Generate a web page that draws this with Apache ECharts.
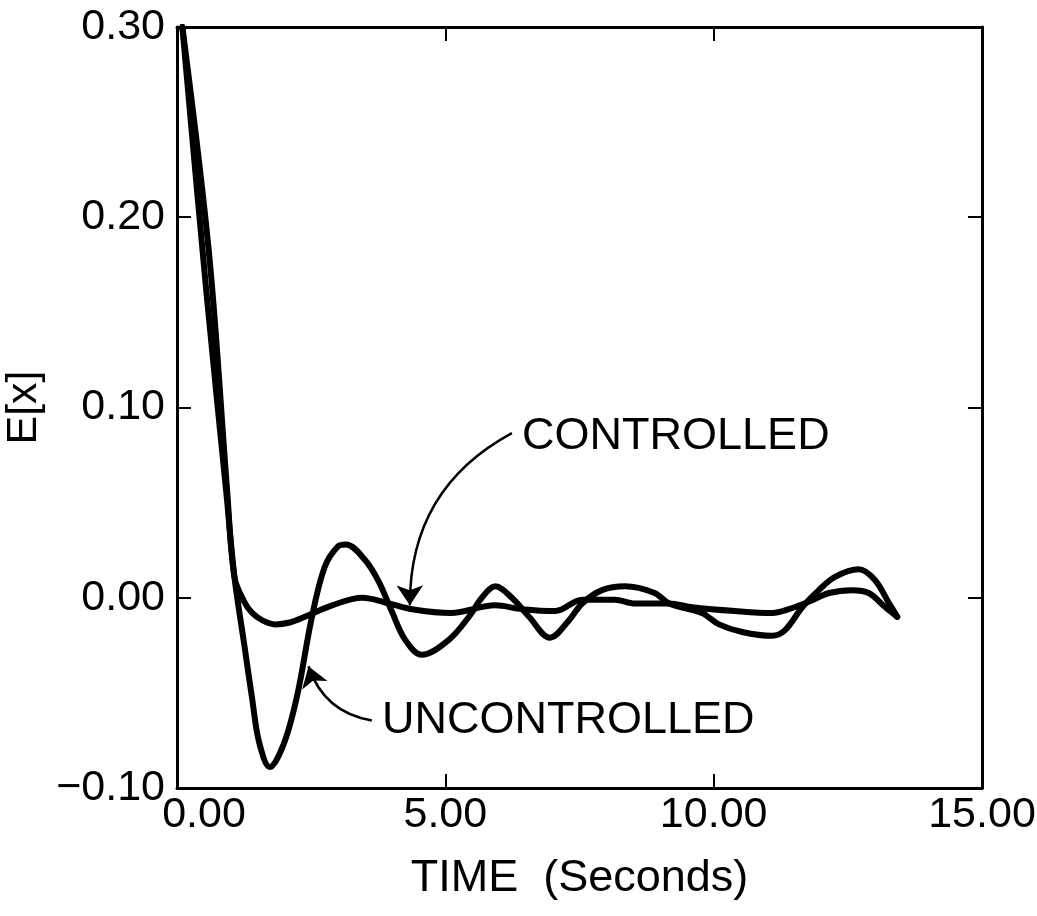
<!DOCTYPE html>
<html>
<head>
<meta charset="utf-8">
<script src="https://cdn.jsdelivr.net/npm/echarts@6/dist/echarts.min.js"></script>
<style>html,body{margin:0;padding:0;background:#fff}#c{width:1037px;height:916px}</style>
</head>
<body>
<div id="c"></div>
<script>
// ---- data ----
const xTicks = [0, 5, 10, 15];
const yTicks = [-0.1, 0, 0.1, 0.2, 0.3];
const xAxisTitle = 'TIME  (Seconds)';
const yAxisTitle = 'E[x]';

const uncontrolledT = [0.1, 0.55, 0.93, 1.07, 1.25, 1.4, 1.53, 1.73, 2.0, 2.25, 2.5, 2.75, 3.0, 3.15, 3.5, 3.75, 4.0, 4.25, 4.56, 5.07, 5.44, 5.68, 5.93, 6.24, 6.56, 6.95, 7.3, 7.55, 7.92, 8.35, 8.9, 9.17, 9.78, 10.1, 10.53, 11.09, 11.33, 11.65, 11.96, 12.26, 12.7, 13.0, 13.27, 13.42];
const uncontrolledY = [0.30, 0.16, 0.052, 0.011, -0.024, -0.053, -0.076, -0.089, -0.076, -0.050, -0.012, 0.016, 0.027, 0.028, 0.020, 0.009, -0.007, -0.022, -0.030, -0.022, -0.010, 0.000, 0.006, 0.000, -0.010, -0.021, -0.012, -0.003, 0.004, 0.006, 0.0025, -0.003, -0.008, -0.014, -0.018, -0.020, -0.017, -0.005, 0.004, 0.011, 0.015, 0.0095, -0.003, -0.010];

const controlledT = [0.1, 0.6, 0.93, 1.07, 1.25, 1.4, 1.6, 1.83, 2.1, 2.38, 2.89, 3.45, 3.95, 4.38, 5.1, 5.93, 6.43, 7.05, 7.55, 8.16, 8.53, 9.17, 9.6, 10.4, 11.09, 11.4, 11.78, 12.15, 12.58, 12.89, 13.2, 13.42];
const controlledY = [0.30, 0.18, 0.058, 0.011, -0.002, -0.008, -0.012, -0.014, -0.013, -0.010, -0.004, 0.000, -0.003, -0.006, -0.008, -0.004, -0.006, -0.007, -0.001, -0.001, -0.003, -0.003, -0.005, -0.007, -0.008, -0.006, -0.002, 0.0025, 0.004, 0.0025, -0.005, -0.010];

const labelTexts = ['CONTROLLED', 'UNCONTROLLED'];
const labelX = [6.43, 3.82];
const labelY = [0.0845, -0.0645];
const arrowStart = [[6.24, 0.0865], [3.63, -0.0645]];
const arrowEnd = [[4.34, -0.004], [2.45, -0.036]];

// ---- chart ----
const FONT = '"Liberation Sans", Arial, Helvetica, sans-serif';
const chart = echarts.init(document.getElementById('c'), null, {renderer: 'canvas'});
const zip = (a, b) => a.map((v, i) => [v, b[i]]);
const fmtY = v => {
  const s = Math.abs(v) < 1e-9 ? '0.00' : v.toFixed(2);
  return s.replace('-', '\u2212');
};
const axisLine = {show: true, onZero: false, lineStyle: {color: '#000', width: 3}};
const tick = {show: true, inside: true, length: 14, lineStyle: {color: '#000', width: 2}};

chart.setOption({
  backgroundColor: '#fff',
  animation: false,
  grid: {left: 177, right: 55, top: 27, bottom: 128, containLabel: false, outerBoundsMode: 'none'},
  xAxis: [{
    type: 'value', min: xTicks[0], max: xTicks[xTicks.length - 1], interval: 5,
    position: 'bottom',
    axisLine: axisLine, axisTick: tick, splitLine: {show: false},
    axisLabel: {
      margin: 6, color: '#000', fontSize: 43, fontFamily: FONT,
      formatter: v => v === 0 ? '{a|0.00}' : v.toFixed(2),
      rich: {a: {fontSize: 43, fontFamily: FONT, color: '#000', padding: [0, 0, 0, 54]}}
    },
    name: xAxisTitle, nameLocation: 'middle', nameGap: 68,
    nameTextStyle: {color: '#000', fontSize: 45, fontFamily: FONT}
  }, {
    type: 'value', min: xTicks[0], max: xTicks[xTicks.length - 1], interval: 5,
    position: 'top',
    axisLine: axisLine, axisTick: tick, splitLine: {show: false},
    axisLabel: {show: false}
  }],
  yAxis: [{
    type: 'value', min: yTicks[0], max: yTicks[yTicks.length - 1], interval: 0.1,
    position: 'left',
    axisLine: axisLine, axisTick: tick, splitLine: {show: false},
    axisLabel: {margin: 12, color: '#000', fontSize: 43, fontFamily: FONT, formatter: fmtY},
    name: yAxisTitle, nameLocation: 'middle', nameGap: 120, nameRotate: 90,
    nameTextStyle: {color: '#000', fontSize: 43, fontFamily: FONT}
  }, {
    type: 'value', min: yTicks[0], max: yTicks[yTicks.length - 1], interval: 0.1,
    position: 'right',
    axisLine: axisLine, axisTick: tick, splitLine: {show: false},
    axisLabel: {show: false}
  }],
  series: [{
    name: 'UNCONTROLLED', type: 'line', smooth: 0.35, showSymbol: false, symbol: 'none',
    data: zip(uncontrolledT, uncontrolledY),
    lineStyle: {color: '#000', width: 6, cap: 'round', join: 'round'}
  }, {
    name: 'CONTROLLED', type: 'line', smooth: 0.35, showSymbol: false, symbol: 'none',
    data: zip(controlledT, controlledY),
    lineStyle: {color: '#000', width: 6, cap: 'round', join: 'round'}
  }, {
    name: 'arrows', type: 'lines', coordinateSystem: 'cartesian2d',
    symbol: ['none', 'arrow'], symbolSize: [0, 20],
    data: [
      {coords: [arrowStart[0], arrowEnd[0]], lineStyle: {curveness: -0.3}},
      {coords: [arrowStart[1], arrowEnd[1]], lineStyle: {curveness: 0.3}}
    ],
    lineStyle: {color: '#000', width: 2.5, opacity: 1}
  }]
});

// annotation texts placed at data coordinates
const graphics = labelTexts.map((t, i) => {
  const p = chart.convertToPixel({gridIndex: 0}, [labelX[i], labelY[i]]);
  return {
    type: 'text', x: p[0], y: p[1], silent: true,
    style: {text: t, fill: '#000', font: '45px ' + FONT, textAlign: 'left', textVerticalAlign: 'middle'}
  };
});
chart.setOption({graphic: graphics});
</script>
</body>
</html>
